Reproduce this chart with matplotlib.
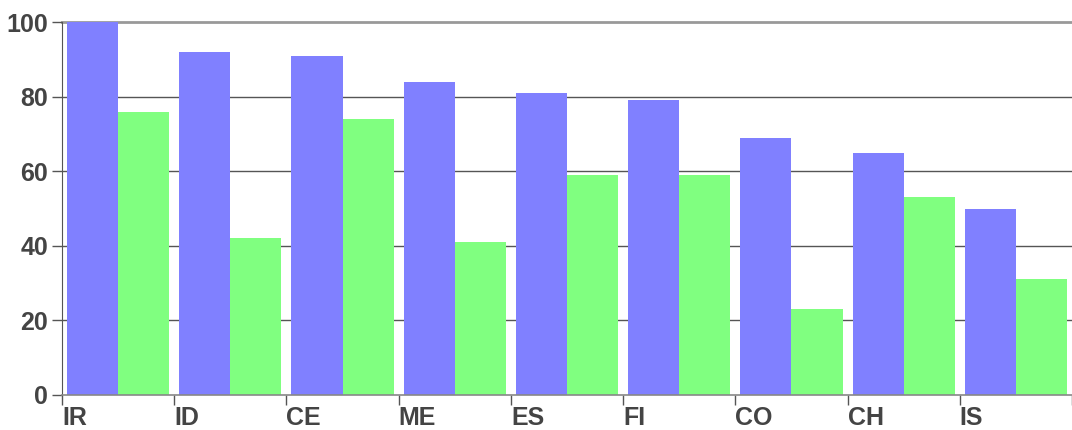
import matplotlib

matplotlib.use("Agg")
import matplotlib.pyplot as plt
import numpy as np

categories = ["IR", "ID", "CE", "ME", "ES", "FI", "CO", "CH", "IS"]
series_blue = [100, 92, 91, 84, 81, 79, 69, 65, 50]
series_green = [76, 42, 74, 41, 59, 59, 23, 53, 31]
y_ticks = [0, 20, 40, 60, 80, 100]

BLUE = "#8080ff"
GREEN = "#80ff80"
TEXT_COLOR = "#444444"

plt.rcParams["font.family"] = ["Liberation Sans", "DejaVu Sans"]

fig = plt.figure(figsize=(10.72, 4.3), dpi=100)
ax = fig.add_axes([62 / 1072, 35 / 430, 1010 / 1072, 373 / 430])

x = np.arange(len(categories))
pad = 0.045
width = 0.455
ax.bar(x + pad, series_blue, width=width, align="edge", color=BLUE, zorder=2)
ax.bar(x + pad + width, series_green, width=width, align="edge", color=GREEN, zorder=2)

for value in y_ticks[1:]:
    if value == 100:
        ax.axhline(value, color="#999999", linewidth=2, zorder=1, clip_on=False)
    else:
        ax.axhline(value, color="#555555", linewidth=1, zorder=1)

ax.set_xlim(0, len(categories))
ax.set_ylim(0, 100)
ax.set_yticks(y_ticks)
ax.set_yticklabels([str(v) for v in y_ticks], fontsize=18, fontweight="bold", color=TEXT_COLOR)
ax.set_xticks(np.arange(len(categories) + 1))
ax.set_xticklabels(categories + [""], fontsize=18, fontweight="bold", color=TEXT_COLOR, ha="left")
ax.tick_params(axis="y", length=7, width=1, color="#555555", pad=3)
ax.tick_params(axis="x", length=7, width=1, color="#555555", pad=1)

for side in ("top", "right"):
    ax.spines[side].set_visible(False)
ax.spines["left"].set_color("#555555")
ax.spines["bottom"].set_color("#888888")
ax.spines["bottom"].set_linewidth(1.2)

fig.savefig("out.png", dpi=100)
